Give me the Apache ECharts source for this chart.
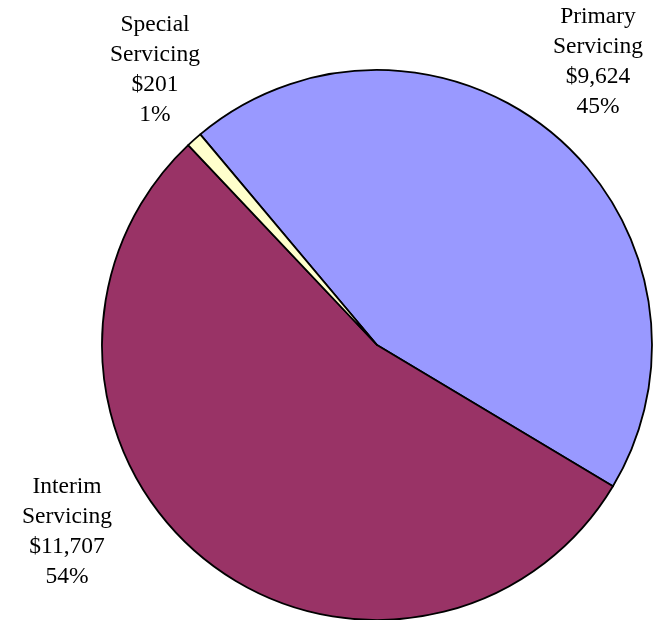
<!DOCTYPE html>
<html>
<head>
<meta charset="utf-8">
<script src="https://cdn.jsdelivr.net/npm/echarts@6/dist/echarts.min.js"></script>
<style>
  html, body { margin: 0; padding: 0; background: #ffffff; }
  #chart { width: 657px; height: 620px; }
</style>
</head>
<body>
<div id="chart"></div>
<script>
// Servicing portfolio by type (dollar amounts)
const categories = ['Primary\nServicing', 'Interim\nServicing', 'Special\nServicing'];
const amounts = [9624, 11707, 201];
const sliceColors = ['#9999FF', '#993366', '#FFFFCC'];

const total = amounts.reduce((a, b) => a + b, 0);

// Label anchor points (centre of each text block) per slice
const labelAnchors = [
  { x: 598, y: 62 },
  { x: 67, y: 532 },
  { x: 155, y: 70 }
];

const chart = echarts.init(document.getElementById('chart'), null, { renderer: 'canvas' });

chart.setOption({
  backgroundColor: '#ffffff',
  animation: false,
  series: [{
    type: 'pie',
    center: [377, 345],
    radius: 275,
    startAngle: 130,
    clockwise: true,
    avoidLabelOverlap: false,
    data: categories.map((name, i) => ({
      name: name,
      value: amounts[i],
      itemStyle: { color: sliceColors[i] }
    })),
    itemStyle: { borderColor: '#000000', borderWidth: 1.8 },
    emphasis: { disabled: true },
    label: {
      show: true,
      position: 'outside',
      fontFamily: '"Liberation Serif", "Times New Roman", serif',
      fontSize: 23.5,
      lineHeight: 30,
      color: '#000000',
      align: 'center',
      formatter: function (p) {
        const pct = Math.round(p.value / total * 100);
        return p.name + '\n$' + p.value.toLocaleString('en-US') + '\n' + pct + '%';
      }
    },
    labelLine: { show: false },
    labelLayout: function (params) {
      const a = labelAnchors[params.dataIndex];
      return { x: a.x, y: a.y, align: 'center', verticalAlign: 'middle' };
    }
  }]
});
</script>
</body>
</html>
